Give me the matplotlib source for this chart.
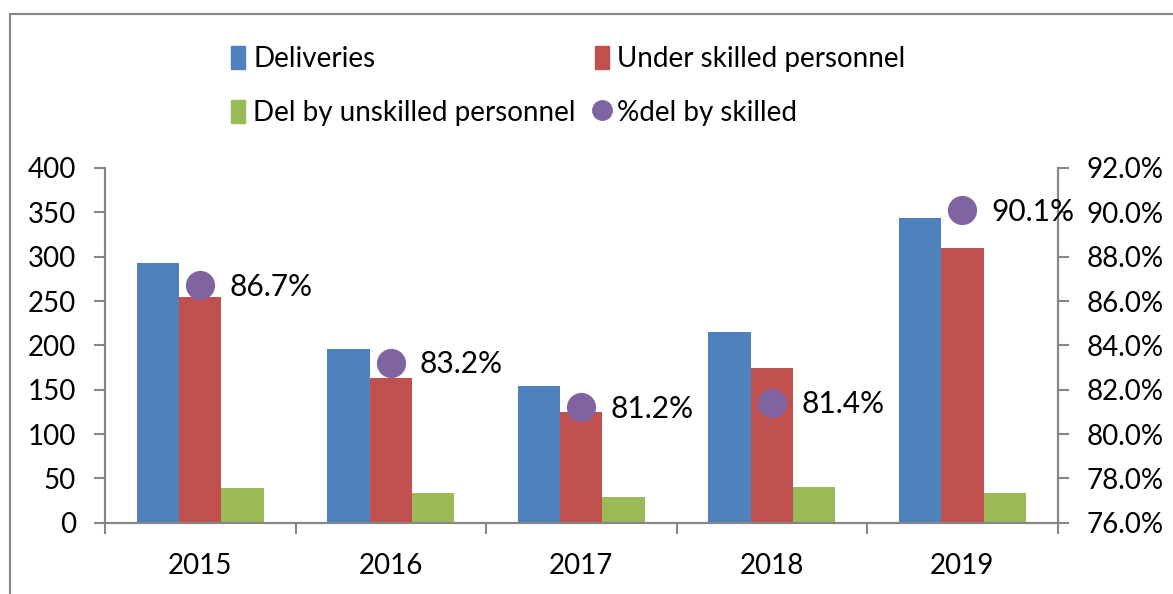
import matplotlib.pyplot as plt
import numpy as np
from matplotlib.lines import Line2D
from matplotlib.patches import Patch, Rectangle

years = ['2015', '2016', '2017', '2018', '2019']
deliveries = [293, 196, 154, 215, 344]
under_skilled = [254, 163, 125, 175, 310]
unskilled = [39, 33, 29, 40, 34]
pct_skilled = [86.7, 83.2, 81.2, 81.4, 90.1]

blue, red, green, purple = '#4F81BD', '#C0504D', '#9BBB59', '#8064A2'
grey = '#868686'
plt.rcParams['font.family'] = ['Lato', 'DejaVu Sans']
fs = 20

fig = plt.figure(figsize=(11.73, 5.94), dpi=100)
ax = fig.add_axes([105 / 1173, 1 - 522.7 / 594, (1057.7 - 105) / 1173, (522.7 - 168) / 594])
ax2 = ax.twinx()

x = np.arange(len(years))
w = 0.222
ax.bar(x - w, deliveries, w, color=blue, zorder=2)
ax.bar(x, under_skilled, w, color=red, zorder=2)
ax.bar(x + w, unskilled, w, color=green, zorder=2)

ax2.plot(x, pct_skilled, 'o', color=purple, markersize=20, zorder=3)
for xi, p in zip(x, pct_skilled):
    ax2.annotate(f'{p:.1f}%', (xi, p), xytext=(21, -1), textcoords='offset points',
                 va='center', ha='left', fontsize=21.5)

ax.set_xlim(-0.5, 4.5)
ax.set_ylim(0, 400)
ax.set_yticks(range(0, 401, 50))
ax2.set_ylim(76, 92)
ax2.set_yticks(np.arange(76, 92.1, 2))
ax2.set_yticklabels([f'{v:.1f}%' for v in np.arange(76, 92.1, 2)])

ax.set_xticks(x)
ax.set_xticklabels(years)
ax.set_xticks(np.arange(-0.5, 5, 1), minor=True)
ax.tick_params(axis='x', which='major', length=0, pad=22, labelsize=fs)
ax.tick_params(axis='x', which='minor', length=8, color=grey, width=1.5)
ax.tick_params(axis='y', length=8, color=grey, width=1.5, pad=13, labelsize=fs)
ax2.tick_params(axis='y', length=8, color=grey, width=1.5, pad=13, labelsize=fs)

for a in (ax, ax2):
    a.spines['top'].set_visible(False)
    for s in ('left', 'right', 'bottom'):
        a.spines[s].set_color(grey)
        a.spines[s].set_linewidth(1.5)

handles = [Patch(color=blue), Patch(color=green), Patch(color=red),
           Line2D([], [], marker='o', color=purple, linestyle='None', markersize=14)]
labels = ['Deliveries', 'Del by unskilled personnel', 'Under skilled personnel', '%del by skilled']
fig.legend(handles, labels, ncol=2, loc='upper left', bbox_to_anchor=(206 / 1173, 1 - 21 / 594),
           frameon=False, fontsize=fs, handlelength=0.5, handleheight=0.9, handletextpad=0.3,
           columnspacing=0.7, labelspacing=1.0)

fig.patches.append(Rectangle((10 / 1173, -0.1), 1.2, 1 - 14 / 594 + 0.1, transform=fig.transFigure,
                             fill=False, edgecolor=grey, linewidth=1.5))

fig.savefig('out.png', dpi=100)
